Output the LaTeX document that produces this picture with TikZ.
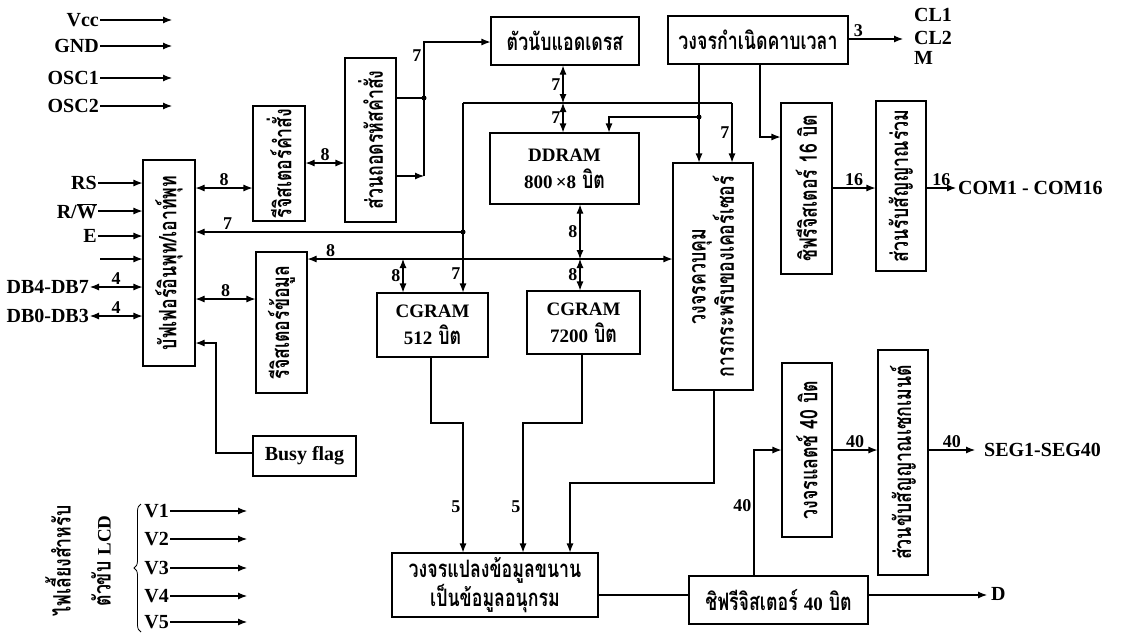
\documentclass[tikz,border=0pt]{standalone}
\usepackage{fontspec}
\setmainfont{Liberation Serif}
\newfontfamily\thai[Script=Thai,FakeStretch=0.74]{Loma}
\usetikzlibrary{arrows.meta,decorations.pathreplacing}
\newcommand\lat[1]{{\normalfont\bfseries\fontsize{19}{24}\selectfont #1}}

\begin{document}
\begin{tikzpicture}[x=1pt,y=-1pt,
  wire/.style={line width=1.1pt},
  arr/.style={wire,-{Latex[length=9pt,width=7pt]}},
  darr/.style={wire,{Latex[length=9pt,width=7pt]}-{Latex[length=9pt,width=7pt]}},
  blk/.style={draw,line width=1.1pt,inner sep=0pt},
  htxt/.style={align=center,inner sep=0pt,font=\thai\bfseries\fontsize{24}{27}\selectfont},
  vtxt/.style={htxt,rotate=90},
  lab/.style={font=\fontsize{20}{22}\selectfont\bfseries,inner sep=1pt},
  num/.style={font=\fontsize{18}{20}\selectfont\bfseries,inner sep=2pt},
  dot/.style={circle,fill,inner sep=0pt,minimum size=5pt},
]
\useasboundingbox (0,0) rectangle (1125,635);

% ---------- blocks ----------
\node[blk,minimum width=52pt,minimum height=206pt] (buf) at (169,263) {};
\node[vtxt] (buf-t) at (buf) {บัฟเฟอร์อินพุท/เอาท์พุท};
\node[blk,minimum width=52pt,minimum height=115pt] (ir) at (279,163.5) {};
\node[vtxt] (ir-t) at (ir) {รีจิสเตอร์คำสั่ง};
\node[blk,minimum width=51pt,minimum height=164pt] (dec) at (370.5,140) {};
\node[vtxt] (dec-t) at (dec) {ส่วนถอดรหัสคำสั่ง};
\node[blk,minimum width=51pt,minimum height=141pt] (dr) at (281.5,322.5) {};
\node[vtxt] (dr-t) at (dr) {รีจิสเตอร์ข้อมูล};
\node[blk,minimum width=148pt,minimum height=48pt] (cnt) at (565,41) {};
\node[htxt] (cnt-t) at (cnt) {ตัวนับแอดเดรส};
\node[blk,minimum width=180pt,minimum height=48pt] (clk) at (758,40) {};
\node[htxt] (clk-t) at (clk) {วงจรกำเนิดคาบเวลา};
\node[blk,minimum width=149pt,minimum height=71pt] (ddram) at (564.5,168.5) {};
\node[htxt] (ddram-t) at (ddram) {\lat{DDRAM}\\\lat{800\,×8} บิต};
\node[blk,minimum width=80pt,minimum height=227pt] (ctrl) at (713,276.5) {};
\node[vtxt] (ctrl-t) at (ctrl) {วงจรควบคุม\\การกระพริบของเคอร์เซอร์};
\node[blk,minimum width=51pt,minimum height=171pt] (sh16) at (806.5,188.5) {};
\node[vtxt] (sh16-t) at (sh16) {ชิฟรีจิสเตอร์ 16 บิต};
\node[blk,minimum width=50pt,minimum height=170pt] (com) at (901,186) {};
\node[vtxt] (com-t) at (com) {ส่วนรับสัญญาณร่วม};
\node[blk,minimum width=111pt,minimum height=64pt] (cg1) at (432.5,325) {};
\node[htxt] (cg1-t) at (cg1) {\lat{CGRAM}\\\lat{512} บิต};
\node[blk,minimum width=113pt,minimum height=63pt] (cg2) at (583.5,322.5) {};
\node[htxt] (cg2-t) at (cg2) {\lat{CGRAM}\\\lat{7200} บิต};
\node[blk,minimum width=103pt,minimum height=40pt] (busy) at (304.5,456) {};
\node[lab] (busy-t) at (busy) {Busy flag};
\node[blk,minimum width=206pt,minimum height=64pt] (ps) at (495,585) {};
\node[htxt] (ps-t) at (ps) {วงจรแปลงข้อมูลขนาน\\เป็นข้อมูลอนุกรม};
\node[blk,minimum width=179pt,minimum height=48pt] (sh40) at (778.5,600) {};
\node[htxt] (sh40-t) at (sh40) {ชิฟรีจิสเตอร์ \lat{40} บิต};
\node[blk,minimum width=50pt,minimum height=174pt] (latch) at (807,450) {};
\node[vtxt] (latch-t) at (latch) {วงจรแลตช์ 40 บิต};
\node[blk,minimum width=50pt,minimum height=225pt] (seg) at (903,462.5) {};
\node[vtxt] (seg-t) at (seg) {ส่วนขับสัญญาณเซกเมนต์};

% ---------- supply and oscillator pins ----------
\foreach \t/\y/\n in {Vcc/20/vcc, GND/46/gnd, OSC1/78/osca, OSC2/106/oscb}{
  \node[lab,anchor=east] (\n) at (100,\y) {\t};
  \coordinate (\n-e) at (172,\y);
  \draw[arr] (\n.east) -- (\n-e);
}

% ---------- MPU interface ----------
\node[lab,anchor=east] (rs) at (98,183) {RS};
\node[lab,anchor=east] (rw) at (98,211) {R/$\overline{\hbox{W}}$};
\node[lab,anchor=east] (en) at (98,236) {E};
\coordinate (nc) at (100,259);
\node[lab,anchor=east] (dbh) at (90,287) {DB4-DB7};
\node[lab,anchor=east] (dbl) at (90,316) {DB0-DB3};
\draw[arr] (rs.east) -- (rs.east -| buf.west);
\draw[arr] (rw.east) -- (rw.east -| buf.west);
\draw[arr] (en.east) -- (en.east -| buf.west);
\draw[arr] (nc) -- (nc -| buf.west);
\draw[darr] (dbh.east) -- (dbh.east -| buf.west) node[num,midway,above]{4};
\draw[darr] (dbl.east) -- (dbl.east -| buf.west) node[num,midway,above]{4};

\draw[darr] (buf.east |- 0,188) -- (ir.west |- 0,188) node[num,midway,above]{8};
\draw[darr] (buf.east |- 0,299) -- (dr.west |- 0,299) node[num,midway,above]{8};
\draw[darr] (ir.east |- 0,163) -- (dec.west |- 0,163) node[num,midway,above]{8};

% ---------- instruction decoder outputs ----------
\coordinate (d1) at (424,98);
\coordinate (d2) at (424,176);
\coordinate (d3) at (424,42);
\draw[wire] (dec.east |- d1) -- (d1);
\node[dot] at (d1) {};
\draw[arr] (dec.east |- d2) -- (d2);
\draw[arr] (d2) -- (d3) node[num,pos=0.9,left]{7} -- (d3 -| cnt.west);

% ---------- address bus ----------
\coordinate (ab-w) at (463,103);
\coordinate (ab-m) at (563,103);
\coordinate (ab-e) at (732,103);
\coordinate (j1) at (463,232);
\draw[wire] (ab-w) -- (ab-e);
\draw[arr] (ab-e) -- (ab-e |- ctrl.north) node[num,pos=0.5,left]{7};
\draw[arr] (ab-w) -- (ab-w |- cg1.north) node[num,pos=0.9,left]{7};
\node[dot] at (j1) {};
\draw[arr] (j1) -- (j1 -| buf.east) node[num,pos=0.88,above]{7};
\draw[darr] (ab-m |- cnt.south) -- (ab-m) node[num,midway,left]{7};
\draw[darr] (ab-m) -- (ab-m |- ddram.north) node[num,midway,left]{7};

% ---------- timing generator ----------
\coordinate (c1) at (699,117);
\coordinate (c2) at (609,117);
\coordinate (c3) at (760,137);
\coordinate (clk-o) at (903,39);
\draw[arr] (clk.south -| c1) -- (c1 |- ctrl.north);
\node[dot] at (c1) {};
\draw[arr] (c1) -- (c2) -- (c2 |- ddram.north);
\draw[arr] (clk.south -| c3) -- (c3) -- (c3 -| sh16.west);
\draw[arr] (clk.east |- clk-o) -- (clk-o) node[num,pos=0.18,above]{3};
\node[lab,anchor=west] (cl1) at (913,15) {CL1};
\node[lab,anchor=west] (cl2) at (913,38) {CL2};
\node[lab,anchor=west] (mm) at (913,58) {M};

% ---------- data bus ----------
\coordinate (da) at (403,259);
\coordinate (dbb) at (580,259);
\draw[darr] (dr.east |- da) -- (ctrl.west |- da) node[num,pos=0.063,above]{8};
\draw[darr] (da) -- (da |- cg1.north) node[num,midway,left]{8};
\draw[darr] (dbb |- ddram.south) -- (dbb) node[num,midway,left]{8};
\draw[darr] (dbb) -- (dbb |- cg2.north) node[num,midway,left]{8};

% ---------- busy flag ----------
\coordinate (b1) at (216,453);
\draw[arr] (busy.west |- b1) -- (b1) -- (b1 |- 0,343) -- (buf.east |- 0,343);

% ---------- common driver ----------
\coordinate (com-o) at (956,188);
\draw[arr] (sh16.east |- com-o) -- (com.west |- com-o) node[num,midway,above]{16};
\draw[arr] (com.east |- com-o) -- (com-o) node[num,midway,above]{16};
\node[lab,anchor=west] (comout) at (957,188) {COM1 - COM16};

% ---------- parallel to serial ----------
\coordinate (k1) at (431,423);
\coordinate (k2) at (463,423);
\coordinate (k3) at (582,423);
\coordinate (k4) at (523,423);
\coordinate (k5) at (714,483);
\coordinate (k6) at (570,483);
\draw[arr] (cg1.south -| k1) -- (k1) -- (k2) -- (k2 |- ps.north) node[num,pos=0.65,left]{5};
\draw[arr] (cg2.south -| k3) -- (k3) -- (k4) -- (k4 |- ps.north) node[num,pos=0.65,left]{5};
\draw[arr] (ctrl.south -| k5) -- (k5) -- (k6) -- (k6 |- ps.north);
\draw[wire] (ps.east |- 0,595) -- (sh40.west |- 0,595);

% ---------- segment side ----------
\coordinate (dout) at (987,595);
\draw[arr] (sh40.east |- dout) -- (dout);
\node[lab,anchor=west] (dd) at (990,594) {D};
\coordinate (l1) at (754,450);
\draw[arr] (sh40.north -| l1) -- (l1) node[num,pos=0.56,left]{40} -- (l1 -| latch.west);
\draw[arr] (latch.east |- l1) -- (seg.west |- l1) node[num,midway,above]{40};
\coordinate (seg-o) at (975,450);
\draw[arr] (seg.east |- seg-o) -- (seg-o) node[num,midway,above]{40};
\node[lab,anchor=west] (segout) at (983,450) {SEG1-SEG40};

% ---------- LCD drive voltages ----------
\foreach \n/\y in {1/511, 2/539, 3/568, 4/596, 5/622}{
  \node[lab,anchor=east] (v\n) at (170,\y) {V\n};
  \coordinate (v\n-e) at (247,\y);
  \draw[arr] (v\n.east) -- (v\n-e);
}
\draw[decorate,decoration={brace,amplitude=7pt},line width=0.8pt] (141,632) -- (141,504);
\node[rotate=90,align=center,inner sep=0pt,font=\thai\bfseries\fontsize{24}{40}\selectfont] (lcd) at (78,561)
  {ไฟเลี้ยงสำหรับ\\ตัวขับ {\normalfont\bfseries\fontsize{19}{40}\selectfont LCD}};
\end{tikzpicture}
\end{document}
